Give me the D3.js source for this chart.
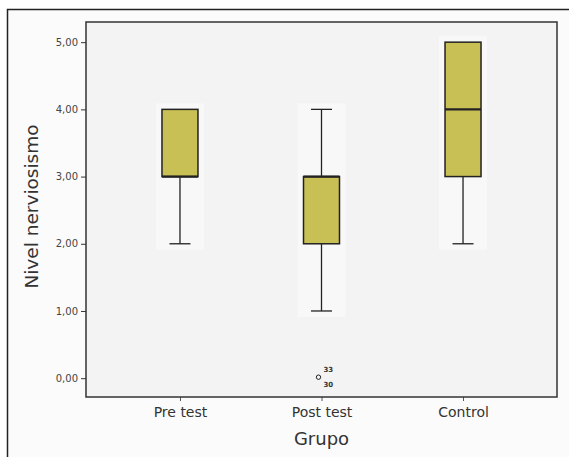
<!DOCTYPE html>
<html><head><meta charset="utf-8">
<script src="https://cdn.jsdelivr.net/npm/d3@7"></script>
<style>body{margin:0;background:#fff}svg{display:block}</style>
</head><body>
<script>
const groups = ["Pre test", "Post test", "Control"];
const q1 = [3, 2, 3];
const median = [3, 3, 4];
const q3 = [4, 3, 5];
const whiskerLow = [2, 1, 2];
const whiskerHigh = [4, 4, 5];
const outlierGroup = ["Post test", "Post test"];
const outlierValue = [0, 0];
const outlierLabel = ["33", "30"];
const yTicks = [0, 1, 2, 3, 4, 5];

const W = 569, H = 457;
const svg = d3.select("body").append("svg").attr("width", W).attr("height", H);
const font = "'DejaVu Sans',sans-serif";

// outer frame
svg.append("rect").attr("x", 7.5).attr("y", 9.5).attr("width", 580).attr("height", 470)
  .attr("fill", "#fbfbfb").attr("stroke", "#222").attr("stroke-width", 1.5);

const L = 86, R = 557, T = 22, B = 397;
const y = d3.scaleLinear().domain([-0.28, 5.3]).range([B, T]);
const x = d3.scalePoint().domain(groups).range([L, R]).padding(0.664);

svg.append("rect").attr("x", L).attr("y", T).attr("width", R - L).attr("height", B - T)
  .attr("fill", "#f3f3f3");

// light halos behind boxes
groups.forEach((g, i) => {
  svg.append("rect").attr("x", x(g) - 24).attr("y", y(whiskerHigh[i]) - 6)
    .attr("width", 48).attr("height", y(whiskerLow[i]) - y(whiskerHigh[i]) + 12)
    .attr("fill", "#f8f8f8");
});

const boxW = 36, capW = 21;
groups.forEach((g, i) => {
  const cx = x(g);
  const gEl = svg.append("g").attr("stroke", "#222").attr("stroke-width", 1.3);
  gEl.append("line").attr("x1", cx).attr("x2", cx).attr("y1", y(whiskerLow[i])).attr("y2", y(q1[i]));
  gEl.append("line").attr("x1", cx).attr("x2", cx).attr("y1", y(q3[i])).attr("y2", y(whiskerHigh[i]));
  if (whiskerLow[i] < q1[i])
    gEl.append("line").attr("x1", cx - capW / 2).attr("x2", cx + capW / 2).attr("y1", y(whiskerLow[i])).attr("y2", y(whiskerLow[i]));
  if (whiskerHigh[i] > q3[i])
    gEl.append("line").attr("x1", cx - capW / 2).attr("x2", cx + capW / 2).attr("y1", y(whiskerHigh[i])).attr("y2", y(whiskerHigh[i]));
  gEl.append("rect").attr("x", cx - boxW / 2).attr("y", y(q3[i])).attr("width", boxW)
    .attr("height", y(q1[i]) - y(q3[i])).attr("fill", "#c8bf55").attr("stroke-width", 1.5);
  gEl.append("line").attr("x1", cx - boxW / 2).attr("x2", cx + boxW / 2).attr("y1", y(median[i])).attr("y2", y(median[i]))
    .attr("stroke-width", 2.2);
});

// outliers
outlierValue.forEach((v, i) => {
  const cx = x(outlierGroup[i]);
  if (i === 0) svg.append("circle").attr("cx", cx - 3).attr("cy", y(v) - 1).attr("r", 2.2)
    .attr("fill", "none").attr("stroke", "#222").attr("stroke-width", 1);
  svg.append("text").attr("x", cx + 2).attr("y", y(v) + (i === 0 ? -6 : 9))
    .attr("font-family", font).attr("font-size", 7).attr("font-weight", "bold").attr("fill", "#333")
    .text(outlierLabel[i]);
});

// axes
const yAxis = d3.axisLeft(y).tickValues(yTicks).tickSize(5).tickFormat(d => d3.format(".2f")(d).replace(".", ","));
const ya = svg.append("g").attr("transform", `translate(${L},0)`).call(yAxis);
ya.select(".domain").remove();
ya.selectAll("line").attr("stroke", "#333");
ya.selectAll("text").attr("font-family", font).attr("font-size", 10).attr("fill", "#444");

const xAxis = d3.axisBottom(x).tickSize(4).tickPadding(6);
const xa = svg.append("g").attr("transform", `translate(0,${B})`).call(xAxis);
xa.select(".domain").remove();
xa.selectAll("line").attr("stroke", "#555");
xa.selectAll("text").attr("font-family", font).attr("font-size", 14).attr("fill", "#333");

// plot frame
svg.append("rect").attr("x", L).attr("y", T).attr("width", R - L).attr("height", B - T)
  .attr("fill", "none").attr("stroke", "#333").attr("stroke-width", 1.5);

svg.append("text").attr("x", (L + R) / 2).attr("y", 445).attr("text-anchor", "middle")
  .attr("font-family", font).attr("font-size", 18).attr("fill", "#333").text("Grupo");
svg.append("text").attr("transform", `translate(38,${(T + B) / 2 - 3}) rotate(-90)`).attr("text-anchor", "middle")
  .attr("font-family", font).attr("font-size", 18.5).attr("fill", "#333").text("Nivel nerviosismo");
</script>
</body></html>
